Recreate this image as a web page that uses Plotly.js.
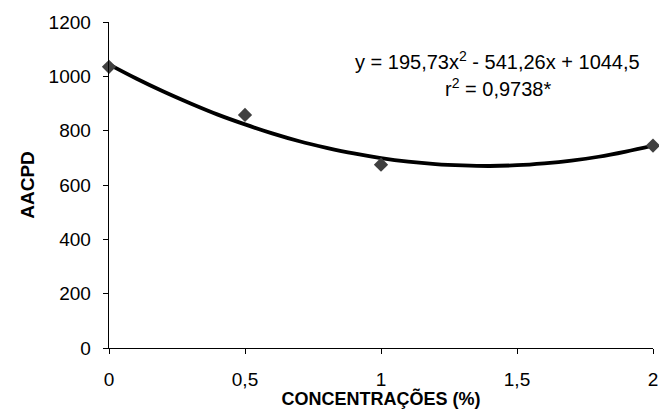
<!DOCTYPE html>
<html>
<head>
<meta charset="utf-8">
<script src="https://cdn.plot.ly/plotly-3.0.1.min.js"></script>
<style>html,body{margin:0;padding:0;background:#fff;}#chart{width:659px;height:409px;}</style>
</head>
<body>
<div id="chart"></div>
<script>
// Observed data points
var concentracoes = [0, 0.5, 1, 2];
var aacpd = [1035, 858, 675, 745];

// Trend curve
var curveX = [0, 0.1, 0.2, 0.3, 0.4, 0.5, 0.6, 0.7, 0.8, 0.9, 1.0, 1.1, 1.2, 1.3, 1.4, 1.5, 1.6, 1.7, 1.8, 1.9, 2.0];
var curveY = [1044, 992, 944, 900, 859, 823, 790, 761, 737, 716, 699, 686, 677, 672, 670, 673, 680, 690, 704, 723, 745];

var xTickVals = [0, 0.5, 1, 1.5, 2];
var xTickText = ["0", "0,5", "1", "1,5", "2"];
var yTickVals = [0, 200, 400, 600, 800, 1000, 1200];

var font = "Liberation Sans, Arial, sans-serif";

var traces = [
  {x: curveX, y: curveY, mode: "lines", line: {color: "#000", width: 3.8, shape: "spline"}, hoverinfo: "skip", cliponaxis: false},
  {x: concentracoes, y: aacpd, mode: "markers", marker: {symbol: "diamond", size: 11, color: "#404040"}, cliponaxis: false}
];

var layout = {
  width: 659, height: 409,
  margin: {l: 108.5, r: 6, t: 21.7, b: 61},
  paper_bgcolor: "#fff", plot_bgcolor: "#fff",
  showlegend: false,
  font: {family: font, size: 19, color: "#000"},
  xaxis: {
    range: [0, 2], tickvals: xTickVals, ticktext: xTickText,
    showgrid: false, zeroline: false, showline: true, linecolor: "#000", linewidth: 1.3,
    ticks: "outside", ticklen: 5, tickcolor: "#000", tickwidth: 1,
    tickfont: {family: font, size: 19}, ticklabelstandoff: 9,
    title: {text: "<b>CONCENTRAÇÕES (%)</b>", font: {family: font, size: 18}, standoff: 1}
  },
  yaxis: {
    range: [0, 1200], tickvals: yTickVals,
    showgrid: false, zeroline: false, showline: true, linecolor: "#000", linewidth: 1.3,
    ticks: "outside", ticklen: 5, tickcolor: "#000", tickwidth: 1,
    tickfont: {family: font, size: 19}, ticklabelstandoff: 8,
    title: {text: "<b>AACPD</b>", font: {family: font, size: 19}, standoff: 9}
  },
  annotations: [
    {xref: "paper", yref: "paper", x: 0.715, y: 0.882, xanchor: "center", yanchor: "middle", showarrow: false,
     text: "y = 195,73x<sup>2</sup> - 541,26x + 1044,5", font: {family: font, size: 20}},
    {xref: "paper", yref: "paper", x: 0.715, y: 0.8, xanchor: "center", yanchor: "middle", showarrow: false,
     text: "r<sup>2</sup> = 0,9738*", font: {family: font, size: 20}}
  ]
};

Plotly.newPlot("chart", traces, layout, {displayModeBar: false, staticPlot: true});
</script>
</body>
</html>
